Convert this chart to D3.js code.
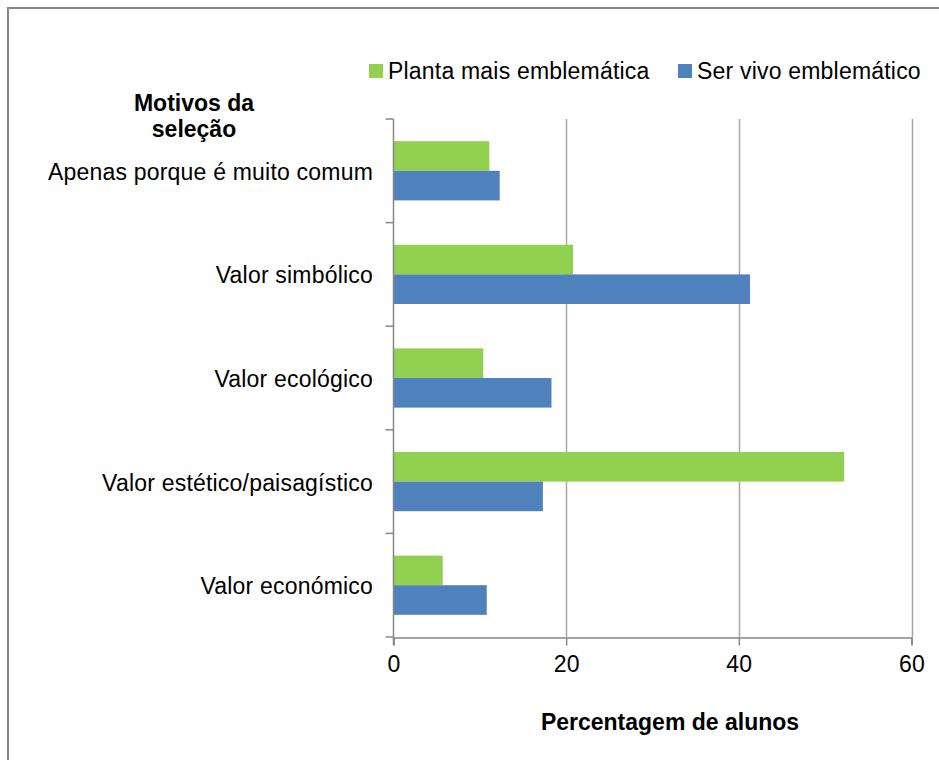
<!DOCTYPE html>
<html lang="pt">
<head>
    <meta charset="UTF-8">
    <title>Motivos da seleção</title>
    <script src="https://d3js.org/d3.v7.min.js"></script>
    <style>
        body { margin: 0; background: #fff; }
        svg { display: block; font-family: "Liberation Sans", Arial, sans-serif; }
        .lbl { font-size: 23px; fill: #000; letter-spacing: 0.2px; }
        .bold { font-size: 23px; font-weight: bold; fill: #000; }
    </style>
</head>
<body>
    <svg id="chart" width="939" height="760"></svg>

    <script>
        // categories, top to bottom
        const categories = [
            'Apenas porque é muito comum',
            'Valor simbólico',
            'Valor ecológico',
            'Valor estético/paisagístico',
            'Valor económico'
        ];
        const seriesNames = ['Planta mais emblemática', 'Ser vivo emblemático'];
        const plantaValues = [11.1, 20.8, 10.4, 52.2, 5.7];
        const serVivoValues = [12.3, 41.3, 18.3, 17.3, 10.8];
        const xTicks = [0, 20, 40, 60];
        const colors = ['#92d050', '#4f81bd'];

        const svg = d3.select('#chart');

        // outer frame
        svg.append('rect')
            .attr('x', 8).attr('y', 8)
            .attr('width', 960).attr('height', 780)
            .attr('fill', 'none')
            .attr('stroke', '#878787')
            .attr('stroke-width', 2);

        const x = d3.scaleLinear().domain([0, 60]).range([393.5, 911.5]);
        const y0 = d3.scaleBand().domain(categories).range([119, 637]);
        const y1 = d3.scaleBand().domain(seriesNames).range([0, y0.bandwidth()]).paddingOuter(0.75);

        // gridlines
        svg.append('g')
            .selectAll('line')
            .data(xTicks.filter(t => t > 0))
            .enter().append('line')
            .attr('x1', d => Math.round(x(d)) + 0.5).attr('x2', d => Math.round(x(d)) + 0.5)
            .attr('y1', 119).attr('y2', 637)
            .attr('stroke', '#a6a6a6')
            .attr('stroke-width', 1.5);

        // bars
        const rows = categories.map((c, i) => ({ cat: c, vals: [plantaValues[i], serVivoValues[i]] }));
        const groups = svg.append('g').selectAll('g')
            .data(rows)
            .enter().append('g')
            .attr('transform', d => `translate(0,${y0(d.cat)})`);

        groups.selectAll('rect')
            .data(d => d.vals.map((v, j) => ({ name: seriesNames[j], value: v, j })))
            .enter().append('rect')
            .attr('x', x(0))
            .attr('y', d => y1(d.name))
            .attr('width', d => x(d.value) - x(0))
            .attr('height', y1.bandwidth())
            .attr('fill', d => colors[d.j]);

        // x axis
        const xAxis = d3.axisBottom(x).tickValues(xTicks).tickSize(8).tickPadding(10).tickFormat(d3.format('d'));
        const gx = svg.append('g')
            .attr('transform', 'translate(0,637.5)')
            .call(xAxis);
        gx.select('.domain').attr('stroke', '#878787').attr('stroke-width', 1.5);
        gx.selectAll('.tick line').attr('stroke', '#878787').attr('stroke-width', 1.5);
        gx.selectAll('.tick text')
            .attr('class', 'lbl')
            .attr('font-family', null).attr('font-size', null)
            .attr('fill', '#000');

        // y axis: ticks at band boundaries
        const boundaries = categories.map(c => y0(c)).concat([y0.range()[1]]);
        svg.append('line')
            .attr('x1', x(0)).attr('x2', x(0))
            .attr('y1', 119).attr('y2', 645)
            .attr('stroke', '#878787').attr('stroke-width', 1.5);
        svg.append('g').selectAll('line')
            .data(boundaries)
            .enter().append('line')
            .attr('x1', x(0) - 8).attr('x2', x(0))
            .attr('y1', d => d).attr('y2', d => d)
            .attr('stroke', '#878787').attr('stroke-width', 1.5);

        // category labels
        svg.append('g').selectAll('text')
            .data(categories)
            .enter().append('text')
            .attr('class', 'lbl')
            .attr('x', 373)
            .attr('y', d => y0(d) + y0.bandwidth() / 2 + 9)
            .attr('text-anchor', 'end')
            .text(d => d);

        // y axis title
        const yTitle = svg.append('text')
            .attr('class', 'bold')
            .attr('text-anchor', 'middle');
        yTitle.append('tspan').attr('x', 194).attr('y', 111).text('Motivos da');
        yTitle.append('tspan').attr('x', 194).attr('y', 137).text('seleção');

        // x axis title
        svg.append('text')
            .attr('class', 'bold')
            .attr('x', 670).attr('y', 730)
            .attr('text-anchor', 'middle')
            .text('Percentagem de alunos');

        // legend
        const legendX = [369, 678];
        const legend = svg.append('g').selectAll('g')
            .data(seriesNames)
            .enter().append('g')
            .attr('transform', (d, i) => `translate(${legendX[i]},0)`);
        legend.append('rect')
            .attr('x', 0).attr('y', 64)
            .attr('width', 14).attr('height', 14)
            .attr('fill', (d, i) => colors[i]);
        legend.append('text')
            .attr('class', 'lbl')
            .attr('x', 19).attr('y', 79)
            .text(d => d);
    </script>
</body>
</html>
